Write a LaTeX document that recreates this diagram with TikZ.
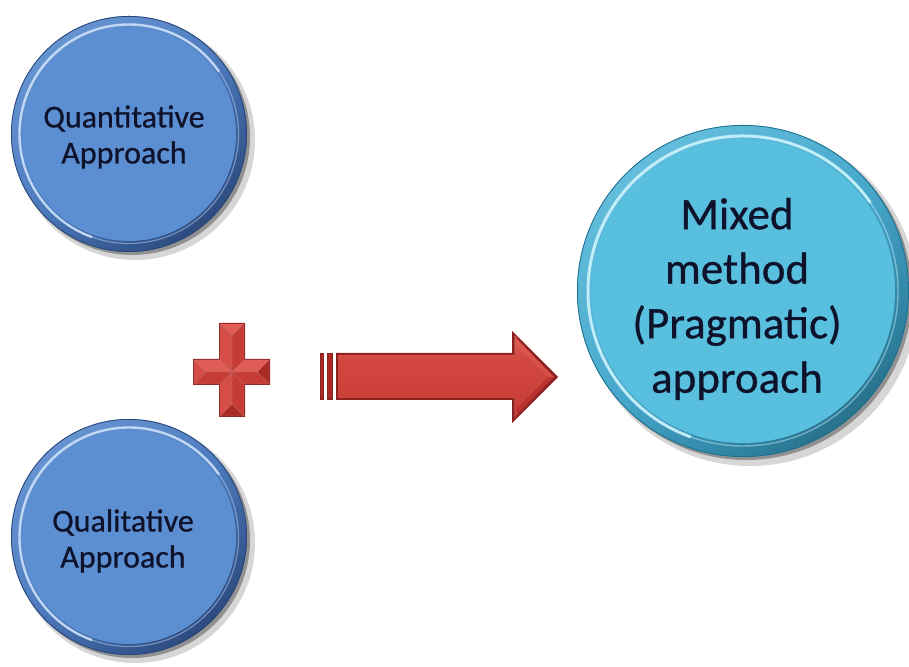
\documentclass[tikz,border=0pt]{standalone}
\usepackage{fontspec}
\setmainfont{Carlito}
\newfontfamily\btnfont{Carlito}[FakeBold=0.6]
\definecolor{txt}{RGB}{14,18,42}
\definecolor{qedge}{RGB}{40,70,120}
\definecolor{qhl}{RGB}{200,222,248}
\definecolor{cedge}{RGB}{30,110,140}
\definecolor{chl}{RGB}{200,242,252}
\definecolor{rdark}{RGB}{140,32,30}
\definecolor{rlight}{RGB}{224,92,86}
\definecolor{rmidl}{RGB}{214,76,70}
\definecolor{rmidd}{RGB}{200,60,54}
\definecolor{rdeep}{RGB}{172,42,38}
\pgfdeclareverticalshading{bluerim}{100bp}{rgb(0bp)=(0.06,0.11,0.22); rgb(30bp)=(0.20,0.33,0.55); rgb(50bp)=(0.30,0.48,0.74); rgb(100bp)=(0.50,0.68,0.90)}
\pgfdeclareverticalshading{cyanrim}{100bp}{rgb(0bp)=(0.04,0.17,0.22); rgb(30bp)=(0.18,0.50,0.62); rgb(50bp)=(0.28,0.66,0.80); rgb(100bp)=(0.50,0.82,0.92)}
\pgfdeclareradialshading{blueface}{\pgfpoint{0bp}{0bp}}{rgb(0bp)=(0.36,0.56,0.82); rgb(42bp)=(0.36,0.56,0.82); rgb(48bp)=(0.31,0.49,0.75); rgb(50bp)=(0.24,0.40,0.64)}
\pgfdeclareradialshading{cyanface}{\pgfpoint{0bp}{0bp}}{rgb(0bp)=(0.35,0.75,0.87); rgb(42bp)=(0.35,0.75,0.87); rgb(48bp)=(0.29,0.66,0.79); rgb(50bp)=(0.20,0.52,0.64)}
\pgfdeclareverticalshading{redbody}{100bp}{rgb(0bp)=(0.62,0.15,0.14); rgb(25bp)=(0.78,0.24,0.21); rgb(60bp)=(0.82,0.28,0.25); rgb(85bp)=(0.88,0.42,0.38); rgb(100bp)=(0.72,0.20,0.18)}
\tikzset{
  btntext/.style={align=center, text=txt, inner sep=0pt, font=\btnfont\fontsize{32}{36}\selectfont},
  bigtext/.style={align=center, text=txt, inner sep=0pt, font=\btnfont\fontsize{45}{54.5}\selectfont},
  softshadow/.style={fill=black, opacity=0.16},
  hardshadow/.style={fill=black, opacity=0.32},
  facet/.style={line width=0.3pt, draw=rdark!60},
}
\begin{document}
\begin{tikzpicture}[x=1pt, y=1pt]
\useasboundingbox (0,0) rectangle (909,666);
\fill[white] (0,0) rectangle (909,666);

% ---------- Quantitative button ----------
\fill[softshadow] (135,526) circle (120);
\fill[hardshadow] (132,529) circle (118);
\shade[shading=bluerim, shading angle=40] (129,532) circle (118);
\draw[qedge, line width=0.8] (129,532) circle (117.6);
\shade[shading=blueface] (129,532) circle (107);
\draw[qhl, line width=1.2, opacity=0.45] (129,532) circle (109.5);
\draw[qhl, line width=2.4, opacity=0.9, line cap=round] (129,532) ++(35:109.5) arc (35:250:109.5);
\node[btntext] (quant) at (124,529) {Quantitative\\Approach};

% ---------- Qualitative button ----------
\fill[softshadow] (135,123) circle (120);
\fill[hardshadow] (132,126) circle (118);
\shade[shading=bluerim, shading angle=40] (129,129) circle (118);
\draw[qedge, line width=0.8] (129,129) circle (117.6);
\shade[shading=blueface] (129,129) circle (107);
\draw[qhl, line width=1.2, opacity=0.45] (129,129) circle (109.5);
\draw[qhl, line width=2.4, opacity=0.9, line cap=round] (129,129) ++(35:109.5) arc (35:250:109.5);
\node[btntext] (qual) at (123,125) {Qualitative\\Approach};

% ---------- Mixed button ----------
\fill[softshadow] (750,368) circle (168);
\fill[hardshadow] (746,372) circle (166);
\shade[shading=cyanrim, shading angle=40] (743,375) circle (166);
\draw[cedge, line width=0.8] (743,375) circle (165.6);
\shade[shading=cyanface] (743,375) circle (152);
\draw[chl, line width=1.4, opacity=0.45] (743,375) circle (155);
\draw[chl, line width=3, opacity=0.9, line cap=round] (743,375) ++(35:155) arc (35:250:155);
\node[bigtext] (mixed) at (737,367) {Mixed\\method\\(Pragmatic)\\approach};

% ---------- Plus sign ----------
\fill[rdark] (219,343) -- (245,343) -- (245,307) -- (270,307) -- (270,281) -- (245,281)
  -- (245,249) -- (219,249) -- (219,281) -- (193,281) -- (193,307) -- (219,307) -- cycle;
\coordinate (pc) at (232,294);
% top arm
\fill[rlight] (220,342) -- (244,342) -- (232,330) -- cycle;
\fill[rmidl,facet] (220,342) -- (232,330) -- (pc) -- (220,306) -- cycle;
\fill[rmidd,facet] (244,342) -- (232,330) -- (pc) -- (244,306) -- cycle;
% bottom arm
\fill[rdeep,facet] (220,250) -- (244,250) -- (232,262) -- cycle;
\fill[rmidl,facet] (220,250) -- (232,262) -- (pc) -- (220,282) -- cycle;
\fill[rmidd,facet] (244,250) -- (232,262) -- (pc) -- (244,282) -- cycle;
% left arm
\fill[rmidl,facet] (194,306) -- (194,282) -- (206,294) -- cycle;
\fill[rlight,facet] (194,306) -- (206,294) -- (pc) -- (220,306) -- cycle;
\fill[rmidd,facet] (194,282) -- (206,294) -- (pc) -- (220,282) -- cycle;
% right arm
\fill[rdeep,facet] (269,306) -- (269,282) -- (257,294) -- cycle;
\fill[rlight,facet] (269,306) -- (257,294) -- (pc) -- (244,306) -- cycle;
\fill[rmidd,facet] (269,282) -- (257,294) -- (pc) -- (244,282) -- cycle;

% ---------- Block arrow ----------
\fill[rdark] (320,266) rectangle (324,313);
\fill[rdeep] (321,267.5) rectangle (323,311.5);
\fill[rdark] (327,266) rectangle (333,313);
\fill[rdeep] (328.2,267.5) rectangle (331.8,311.5);
\fill[rdark] (336,266) -- (512,266) -- (512,243) -- (558,289) -- (512,335)
  -- (512,313) -- (336,313) -- cycle;
\shade[shading=redbody] (338,268) -- (514,268) -- (514,248) -- (554,289) -- (514,330)
  -- (514,311) -- (338,311) -- cycle;
\fill[rlight, opacity=0.55] (514,330) -- (554,289) -- (548,289) -- (517,320) -- (517,330) -- cycle;
\fill[rdeep, opacity=0.6] (514,248) -- (554,289) -- (548,289) -- (517,258) -- (517,248) -- cycle;
\draw[rdark!80, line width=0.6] (514,311) -- (514,330);
\draw[rdark!80, line width=0.6] (514,268) -- (514,248);
\end{tikzpicture}
\end{document}
